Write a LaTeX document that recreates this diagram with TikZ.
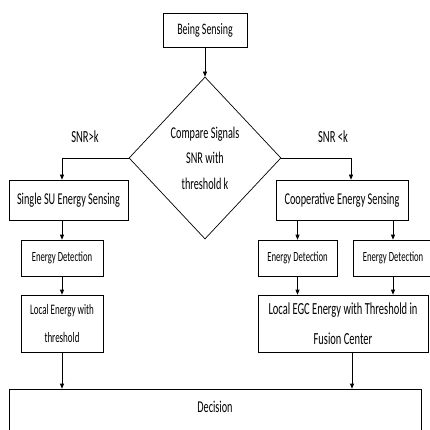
\documentclass[tikz,border=0pt]{standalone}
\usepackage{fontspec}
\setmainfont{Carlito}[FakeStretch=0.62]
\usetikzlibrary{shapes.geometric,arrows.meta}
\begin{document}
\begin{tikzpicture}[x=1pt,y=-1pt,
  box/.style={draw,line width=0.7pt,rectangle,inner sep=0pt,align=center,font=\fontsize{16.5}{28}\selectfont},
  arr/.style={-{Triangle[length=5pt,width=4pt]},line width=0.7pt},
  lbl/.style={inner sep=0pt,font=\fontsize{17}{20}\selectfont}]
\useasboundingbox (0,0) rectangle (430,430);
\clip (0,0) rectangle (430,430);
\fill[white] (0,0) rectangle (430,430);
\node[box,minimum width=84pt,minimum height=34pt,font=\fontsize{16}{20}\selectfont] (begin) at (205,30) {Being Sensing};
\node[draw,line width=0.7pt,diamond,inner sep=0pt,minimum width=152pt,minimum height=162pt,align=center,font=\fontsize{16.5}{25.5}\selectfont] (cmp) at (205,158) {Compare Signals\\SNR with\\threshold k};
\node[box,minimum width=119pt,minimum height=40pt] (single) at (68.5,200) {Single SU Energy Sensing};
\node[box,minimum width=132pt,minimum height=40pt] (coop) at (342,200) {Cooperative Energy Sensing};
\node[box,minimum width=82pt,minimum height=36pt,font=\fontsize{14}{16}\selectfont] (edl) at (62,258) {Energy Detection};
\node[box,minimum width=82pt,minimum height=57pt,font=\fontsize{14.5}{28}\selectfont] (local) at (62,323.5) {Local Energy with\\threshold};
\node[box,minimum width=79pt,minimum height=36pt,font=\fontsize{14}{16}\selectfont] (ed1) at (297.5,258) {Energy Detection};
\node[box,minimum width=80pt,minimum height=36pt,font=\fontsize{14}{16}\selectfont] (ed2) at (393,258) {Energy Detection};
\node[box,minimum width=170pt,minimum height=57pt,font=\fontsize{16.9}{30}\selectfont] (egc) at (343,323.5) {Local EGC Energy with Threshold in\\Fusion Center};
\node[box,minimum width=412pt,minimum height=56pt,text depth=20pt] (dec) at (215,417) {Decision};
\node[lbl] (l1) at (85,137) {SNR>k};
\node[lbl] (l2) at (333,137) {SNR <k};
\draw[arr] (begin.south) -- (cmp.north);
\draw[arr] (cmp.west) -| (single.north -| edl.north);
\draw[arr] (cmp.east) -| ([xshift=9pt]coop.north);
\draw[arr] (single.south -| edl.north) -- (edl.north);
\draw[arr] (edl.south) -- (local.north);
\draw[arr] (local.south) -- (local.south |- dec.north);
\draw[arr] (coop.south -| ed1.north) -- (ed1.north);
\draw[arr] (coop.south -| ed2.north) -- (ed2.north);
\draw[arr] (ed1.south) -- (ed1.south |- egc.north);
\draw[arr] (ed2.south) -- (ed2.south |- egc.north);
\draw[arr] ([xshift=9pt]egc.south) -- ([xshift=9pt]egc.south |- dec.north);
\end{tikzpicture}
\end{document}
